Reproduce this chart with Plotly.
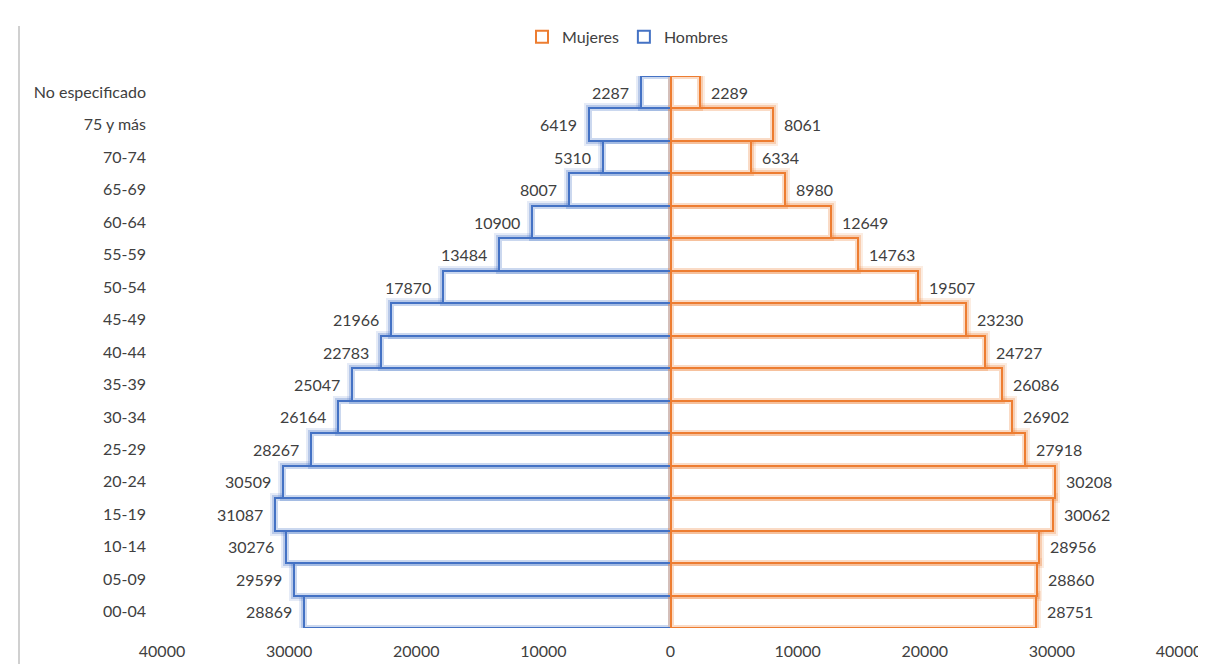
import plotly.graph_objects as go

categories = ["00-04", "05-09", "10-14", "15-19", "20-24", "25-29", "30-34", "35-39",
              "40-44", "45-49", "50-54", "55-59", "60-64", "65-69", "70-74", "75 y más",
              "No especificado"]
hombres = [28869, 29599, 30276, 31087, 30509, 28267, 26164, 25047,
           22783, 21966, 17870, 13484, 10900, 8007, 5310, 6419, 2287]
mujeres = [28751, 28860, 28956, 30062, 30208, 27918, 26902, 26086,
           24727, 23230, 19507, 14763, 12649, 8980, 6334, 8061, 2289]
tick_vals = [-40000, -30000, -20000, -10000, 0, 10000, 20000, 30000, 40000]
tick_text = ["40000", "30000", "20000", "10000", "0", "10000", "20000", "30000", "40000"]

BLUE = "#4472C4"
ORANGE = "#ED7D31"
FONT = "Lato"
TXT = "#404040"
FS = 16

neg_h = [-v for v in hombres]

fig = go.Figure()
# glow layers
for w, a in [(10, 0.14), (6, 0.28)]:
    fig.add_trace(go.Bar(y=categories, x=neg_h, orientation="h", showlegend=False,
                         marker=dict(color="white", line=dict(color=f"rgba(68,114,196,{a})", width=w)),
                         hoverinfo="skip"))
    fig.add_trace(go.Bar(y=categories, x=mujeres, orientation="h", showlegend=False,
                         marker=dict(color="white", line=dict(color=f"rgba(237,125,49,{a})", width=w)),
                         hoverinfo="skip"))
# solid layers (Mujeres drawn last so its edge sits on top at zero)
fig.add_trace(go.Bar(y=categories, x=neg_h, orientation="h", name="Hombres", legendrank=2,
                     marker=dict(color="rgba(255,255,255,0)", line=dict(color=BLUE, width=2))))
fig.add_trace(go.Bar(y=categories, x=mujeres, orientation="h", name="Mujeres", legendrank=1,
                     marker=dict(color="rgba(255,255,255,0)", line=dict(color=ORANGE, width=2))))

annotations = []
for c, v in zip(categories, mujeres):
    annotations.append(dict(x=v, y=c, xref="x", yref="y", text=str(v), showarrow=False,
                            xanchor="left", xshift=9, font=dict(family=FONT, size=FS, color=TXT)))
for c, v in zip(categories, hombres):
    annotations.append(dict(x=-v, y=c, xref="x", yref="y", text=str(v), showarrow=False,
                            xanchor="right", xshift=-10, font=dict(family=FONT, size=FS, color=TXT)))

fig.update_layout(
    width=1206, height=664,
    margin=dict(l=154, r=28, t=63, b=38),
    barmode="overlay", bargap=0,
    plot_bgcolor="white", paper_bgcolor="white",
    font=dict(family=FONT, size=FS, color=TXT),
    showlegend=True,
    legend=dict(orientation="h", x=0.354, xanchor="left", y=1.071, yanchor="middle",
                font=dict(family=FONT, size=FS, color=TXT), traceorder="normal",
                itemwidth=30, bgcolor="rgba(0,0,0,0)"),
    xaxis=dict(range=[-40000, 40000], tickvals=tick_vals, ticktext=tick_text,
               showgrid=False, zeroline=False, showline=False, ticks="",
               tickfont=dict(family=FONT, size=FS, color=TXT), ticklabelstandoff=12),
    yaxis=dict(type="category", categoryorder="array", categoryarray=categories,
               range=[-0.5, 16.5], showgrid=False, zeroline=False, showline=False,
               ticks="", ticklabelstandoff=15,
               tickfont=dict(family=FONT, size=FS, color=TXT)),
    annotations=annotations,
    shapes=[dict(type="line", xref="paper", yref="paper",
                 x0=(10 - 154) / 1024, x1=(10 - 154) / 1024,
                 y0=-38 / 563, y1=1 + (63 - 12) / 563,
                 line=dict(color="#D0D0D0", width=2))],
)

fig.write_html("out.html")
